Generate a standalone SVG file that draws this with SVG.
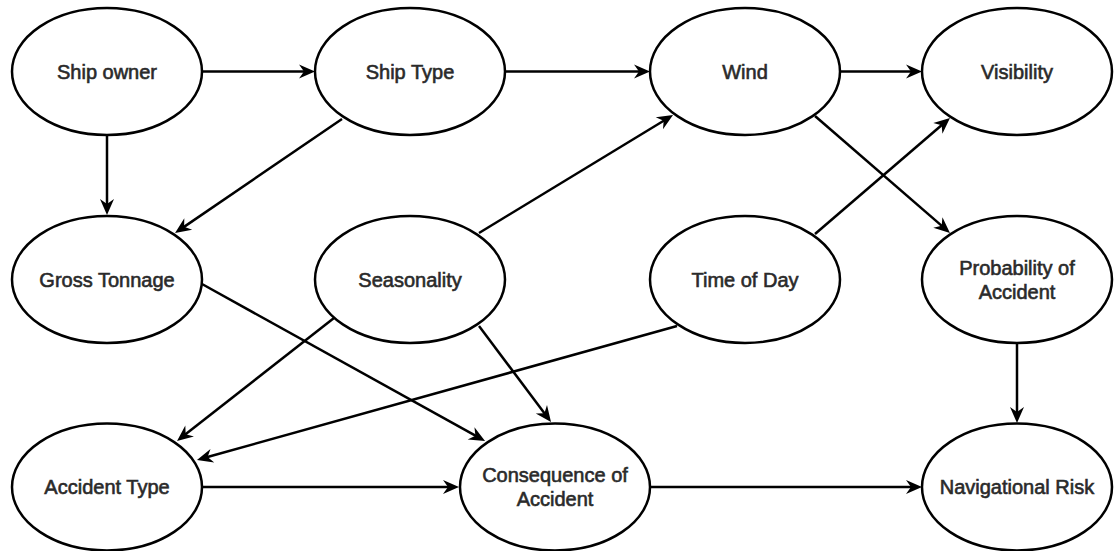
<svg xmlns="http://www.w3.org/2000/svg" width="1115" height="551" viewBox="0 0 1115 551">
  <style>
    .node ellipse { fill: #ffffff; stroke: #000000; stroke-width: 2.5; }
    .node text { font-family: "Liberation Sans", Arial, Helvetica, sans-serif; font-size: 20px; fill: #2a2a2a; stroke: #2a2a2a; stroke-width: 0.6; text-anchor: middle; dominant-baseline: central; }
    .edges line { stroke: #000000; stroke-width: 2.5; fill: none; marker-end: url(#arrow); }
  </style>
  <defs>
    <marker id="arrow" markerUnits="userSpaceOnUse" markerWidth="16" markerHeight="14" refX="6" refY="7" orient="auto" overflow="visible">
      <path d="M0,0 L16,7 L0,14 L5,7 Z" fill="#000000"/>
    </marker>
  </defs>

  <rect width="1115" height="551" fill="#ffffff"/>

  <!-- connectors: each line stops 10px short of its arrow tip -->
  <g id="edges" class="edges">
    <line x1="203" y1="71.5" x2="305" y2="71.5"/>
    <line x1="506" y1="71.5" x2="640" y2="71.5"/>
    <line x1="841" y1="71.5" x2="912" y2="71.5"/>
    <line x1="107" y1="136" x2="107" y2="205"/>
    <line x1="342" y1="119" x2="183.3" y2="227.4"/>
    <line x1="479" y1="233" x2="664.5" y2="120.2"/>
    <line x1="815" y1="234" x2="942.4" y2="124.5"/>
    <line x1="815" y1="116" x2="942.4" y2="226.4"/>
    <line x1="202" y1="284" x2="476.3" y2="436.2"/>
    <line x1="334" y1="318" x2="184.9" y2="434.8"/>
    <line x1="479" y1="326" x2="545" y2="414"/>
    <line x1="677" y1="326" x2="206.6" y2="457.3"/>
    <line x1="203" y1="487" x2="449" y2="487"/>
    <line x1="651" y1="487" x2="912" y2="487"/>
    <line x1="1017" y1="344" x2="1017" y2="413"/>
  </g>

  <!-- row 1 -->
  <g id="ship-owner" class="node">
    <ellipse cx="107" cy="71.5" rx="95" ry="63.5"/>
    <text x="107" y="71.5">Ship owner</text>
  </g>
  <g id="ship-type" class="node">
    <ellipse cx="410" cy="71.5" rx="95" ry="63.5"/>
    <text x="410" y="71.5">Ship Type</text>
  </g>
  <g id="wind" class="node">
    <ellipse cx="745" cy="71.5" rx="95" ry="63.5"/>
    <text x="745" y="71.5">Wind</text>
  </g>
  <g id="visibility" class="node">
    <ellipse cx="1017" cy="71.5" rx="95" ry="63.5"/>
    <text x="1017" y="71.5">Visibility</text>
  </g>

  <!-- row 2 -->
  <g id="gross-tonnage" class="node">
    <ellipse cx="107" cy="279.5" rx="95" ry="63.5"/>
    <text x="107" y="279.5">Gross Tonnage</text>
  </g>
  <g id="seasonality" class="node">
    <ellipse cx="410" cy="279.5" rx="95" ry="63.5"/>
    <text x="410" y="279.5">Seasonality</text>
  </g>
  <g id="time-of-day" class="node">
    <ellipse cx="745" cy="279.5" rx="95" ry="63.5"/>
    <text x="745" y="279.5">Time of Day</text>
  </g>
  <g id="probability-of-accident" class="node">
    <ellipse cx="1017" cy="279.5" rx="95" ry="63.5"/>
    <text x="1017" y="267.5">Probability of</text>
    <text x="1017" y="291.5">Accident</text>
  </g>

  <!-- row 3 -->
  <g id="accident-type" class="node">
    <ellipse cx="107" cy="487" rx="95" ry="63.5"/>
    <text x="107" y="487">Accident Type</text>
  </g>
  <g id="consequence-of-accident" class="node">
    <ellipse cx="555" cy="487" rx="95" ry="63.5"/>
    <text x="555" y="475">Consequence of</text>
    <text x="555" y="499">Accident</text>
  </g>
  <g id="navigational-risk" class="node">
    <ellipse cx="1017" cy="487" rx="95" ry="63.5"/>
    <text x="1017" y="487">Navigational Risk</text>
  </g>
</svg>
